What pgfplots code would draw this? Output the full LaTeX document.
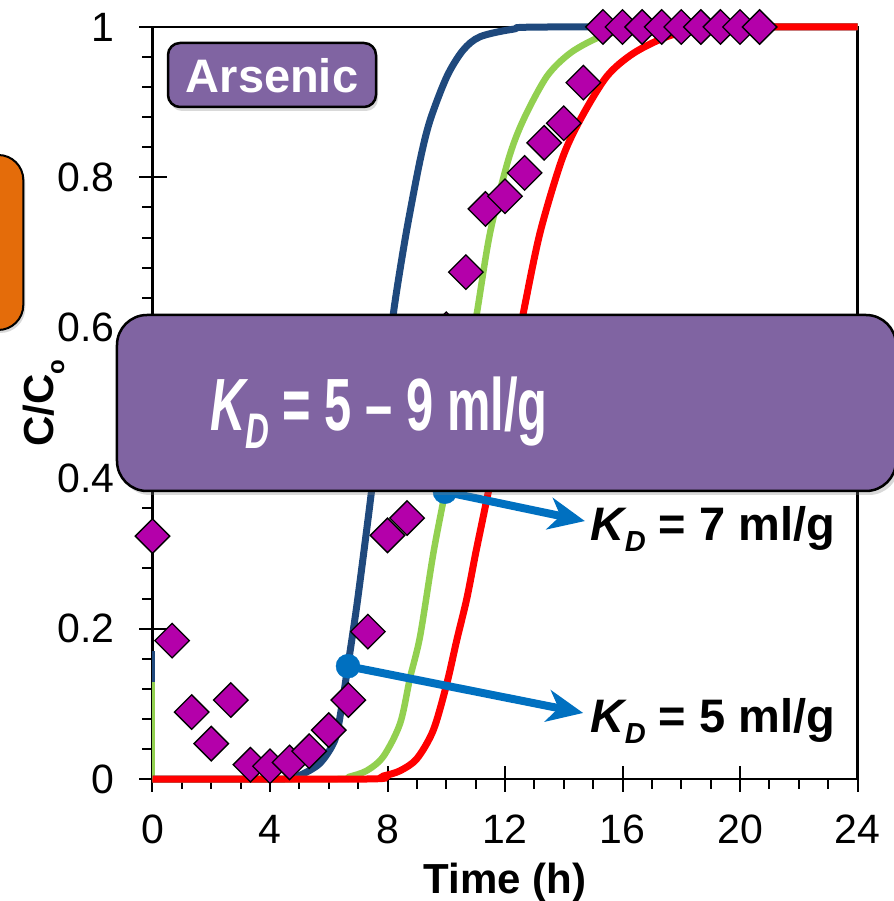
\documentclass[border=0pt]{standalone}
\usepackage{fontspec}
\setmainfont{Liberation Sans}
\usepackage{pgfplots}
\pgfplotsset{compat=1.18}
\usetikzlibrary{arrows.meta,shadows}

\definecolor{kblue}{HTML}{1F497D}
\definecolor{kgreen}{HTML}{92D050}
\definecolor{kred}{HTML}{FF0000}
\definecolor{arrowblue}{HTML}{0070C0}
\definecolor{boxpurple}{HTML}{8064A2}
\definecolor{boxorange}{HTML}{E46C0A}
\definecolor{datamag}{HTML}{B400AA}

% measured arsenic breakthrough (C/Co vs time in h)
\pgfplotstableread{
t    c
0.000 0.323
0.667 0.184
1.333 0.089
2.000 0.047
2.667 0.105
3.333 0.019
4.000 0.017
4.667 0.022
5.333 0.037
6.000 0.065
6.667 0.105
7.333 0.196
8.000 0.324
8.667 0.347
9.333 0.470
10.000 0.598
10.667 0.674
11.333 0.758
12.000 0.775
12.667 0.806
13.333 0.846
14.000 0.872
14.667 0.926
15.333 1.000
16.000 1.000
16.667 1.000
17.333 1.000
18.000 1.000
18.667 1.000
19.333 1.000
20.000 1.000
20.667 1.000
}\measured

% model curves, KD = 5, 7 and 9 ml/g
\pgfplotstableread{
t c
0.00 0.000
4.50 0.000
5.02 0.005
5.70 0.021
6.21 0.052
6.44 0.096
6.65 0.150
6.95 0.229
7.29 0.331
7.46 0.384
7.90 0.524
8.20 0.619
8.45 0.683
8.70 0.740
9.11 0.823
9.45 0.876
10.02 0.934
10.57 0.969
11.15 0.987
12.27 0.997
13.50 1.000
24.00 1.000
}\kdfive

\pgfplotstableread{
t c
0.00 0.000
6.30 0.000
6.70 0.003
7.29 0.011
7.86 0.030
8.43 0.074
8.77 0.135
9.11 0.190
9.56 0.300
9.96 0.382
10.30 0.457
10.70 0.545
11.04 0.619
11.49 0.726
12.11 0.823
12.62 0.876
13.42 0.934
14.21 0.965
15.12 0.985
15.90 0.994
17.50 1.000
24.00 1.000
}\kdseven

\pgfplotstableread{
t c
0.00 0.000
7.30 0.000
7.86 0.004
8.43 0.011
9.00 0.027
9.56 0.065
10.02 0.127
10.36 0.185
10.70 0.240
11.00 0.300
11.26 0.349
11.49 0.393
11.80 0.455
12.20 0.535
12.62 0.619
13.19 0.726
13.93 0.823
14.55 0.876
15.46 0.934
16.37 0.965
17.50 0.987
18.50 0.996
19.80 1.000
24.00 1.000
}\kdnine

\begin{document}
\begin{tikzpicture}
\begin{axis}[
  at={(0pt,0pt)}, anchor=south west,
  scale only axis, width=705pt, height=752pt,
  xmin=0, xmax=24, ymin=0, ymax=1,
  xtick={0,4,8,12,16,20,24},
  ytick={0,0.2,0.4,0.6,0.8,1},
  minor x tick num=3, minor y tick num=4,
  xtick pos=left, ytick pos=left,
  tick align=outside,
  major tick length=13pt, minor tick length=10pt,
  tick style={black, line width=2pt},
  extra x ticks={0,4,8,12,16,20,24}, extra x tick labels={},
  extra x tick style={tick align=inside, major tick length=13pt},
  extra y ticks={0,0.2,0.4,0.6,0.8,1}, extra y tick labels={},
  extra y tick style={tick align=inside, major tick length=14pt},
  axis line style={black, line width=2.4pt},
  clip=false,
  /pgf/number format/assume math mode=true,
  tick label style={font=\fontsize{41}{41}\selectfont, inner sep=0pt},
  xticklabel style={anchor=north, yshift=-23pt},
  yticklabel style={anchor=east, xshift=-25pt},
  xlabel={Time (h)},
  xlabel style={at={(axis description cs:0.5,-0.1516)}, anchor=base,
    font=\bfseries\fontsize{42}{42}\selectfont, inner sep=0pt},
  ylabel={C/C\raisebox{-11pt}{\fontsize{24}{24}\selectfont o}},
  ylabel style={at={(axis description cs:-0.1411,0.5)}, anchor=base,
    font=\bfseries\fontsize{42}{42}\selectfont, inner sep=0pt},
]
% measured data
\addplot[only marks, mark=square*, mark size=12.2pt,
  mark options={rotate=45, fill=datamag, draw=black, line width=1.3pt}]
  table[x=t, y=c] {\measured};
% initial spikes at t = 0
\addplot[kblue, line width=3pt] coordinates {(0.05,0) (0.05,0.17)};
\addplot[kgreen, line width=3pt] coordinates {(0.05,0) (0.05,0.129)};
% model curves
\addplot[kblue, line width=7pt, smooth, tension=0.5] table[x=t, y=c] {\kdfive};
\addplot[kgreen, line width=6.5pt, smooth, tension=0.5] table[x=t, y=c] {\kdseven};
\addplot[kred, line width=7pt, smooth, tension=0.5] table[x=t, y=c] {\kdnine};
% pointers to the KD = 5 and KD = 7 curves
\draw[arrowblue, line width=8pt, -{Stealth[length=36pt, width=32pt, inset=11pt]}]
  (axis cs:6.655,0.150) -- (axis cs:14.66,0.0878);
\draw[arrowblue, line width=8pt, -{Stealth[length=36pt, width=32pt, inset=11pt]}]
  (axis cs:9.957,0.382) -- (axis cs:14.72,0.343);
\addplot[only marks, mark=*, mark size=12pt, color=arrowblue]
  coordinates {(6.655,0.150) (9.957,0.382)};
\end{axis}

% labels next to the arrows
\node[anchor=base west, inner sep=0pt, font=\bfseries\fontsize{47}{47}\selectfont]
  at (438.2pt,238.3pt) {\itshape K\raisebox{-11pt}{\fontsize{29}{29}\selectfont D}\upshape\ = 7 ml/g};
\node[anchor=base west, inner sep=0pt, font=\bfseries\fontsize{47}{47}\selectfont]
  at (438.2pt,46.3pt) {\itshape K\raisebox{-11pt}{\fontsize{29}{29}\selectfont D}\upshape\ = 5 ml/g};

% side tab
\draw[fill=boxorange, line width=2pt, rounded corners=25pt,
  drop shadow={shadow xshift=2pt, shadow yshift=-3pt, opacity=0.3}]
  (-200pt,449pt) rectangle (-129.2pt,624pt);

% element tag
\draw[fill=boxpurple, line width=2.5pt, rounded corners=12pt,
  drop shadow={shadow xshift=2pt, shadow yshift=-4pt, opacity=0.3}]
  (15.5pt,672pt) rectangle (223.5pt,736pt);
\node[text=white, anchor=base, inner sep=0pt, font=\bfseries\fontsize{47}{47}\selectfont]
  at (119.5pt,686.3pt) {Arsenic};

% fitted range banner
\draw[fill=boxpurple, line width=2.5pt, rounded corners=30pt,
  drop shadow={shadow xshift=3pt, shadow yshift=-4pt, opacity=0.3}]
  (-35.5pt,288pt) rectangle (743.5pt,464pt);
\node[text=white, anchor=base west, inner sep=0pt]
  at (57.5pt,348.3pt) {\scalebox{0.66}[1]{\fontsize{74}{74}\selectfont\bfseries\itshape K\raisebox{-18pt}{\fontsize{50}{50}\selectfont D}\upshape\ = 5 – 9 ml/g}};

\pgfresetboundingbox
\useasboundingbox (-152.5pt,-122pt) rectangle (740.5pt,779pt);
\end{tikzpicture}
\end{document}
